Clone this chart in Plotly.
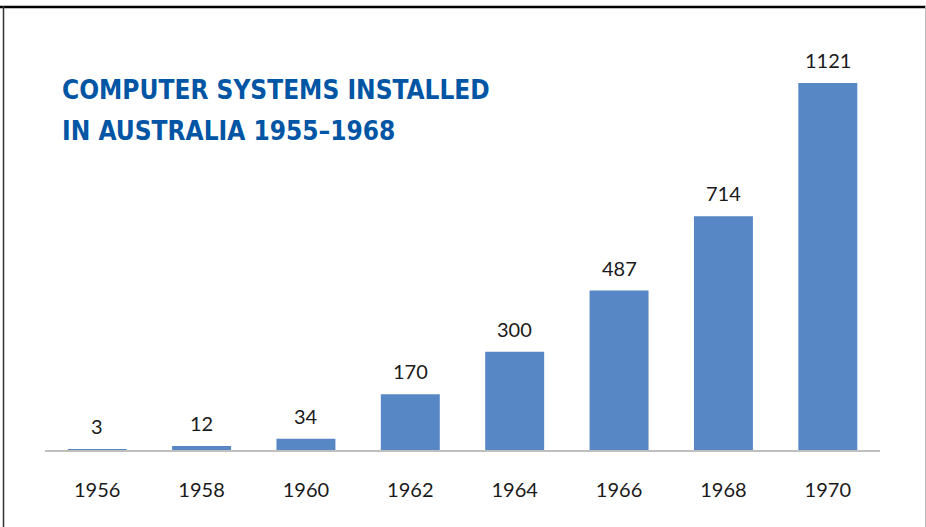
import plotly.graph_objects as go

years = ['1956', '1958', '1960', '1962', '1964', '1966', '1968', '1970']
systems = [3, 12, 34, 170, 300, 487, 714, 1121]

title_lines = ['COMPUTER SYSTEMS INSTALLED', 'IN AUSTRALIA 1955–1968']

bar_color = '#5887C6'
label_font = dict(family='Lato, Open Sans, sans-serif', size=20, color='#1a1a1a')
title_font = dict(family='Liberation Sans Narrow, DejaVu Sans Condensed, Roboto, sans-serif',
                  size=26, color='#0055A4')

fig = go.Figure()
fig.add_trace(go.Bar(x=years, y=systems, marker=dict(color=bar_color, line=dict(width=0)),
                     hoverinfo='x+y'))

# value labels above each bar (category index on the x axis)
for i, v in enumerate(systems):
    fig.add_annotation(x=i, y=v, text=str(v), showarrow=False, yanchor='bottom',
                       yshift=9, font=label_font)

# two-line title, one annotation per line so the spacing can be set
for line, ypos in zip(title_lines, [0.899, 0.797]):
    fig.add_annotation(xref='paper', yref='paper', x=0.018, y=ypos, xanchor='left',
                       yanchor='middle', showarrow=False, text='<b>' + line + '</b>',
                       font=title_font)

# frame around the slide
fig.add_shape(type='line', xref='paper', yref='paper', x0=-0.06, x1=1.06, y0=1.1075, y1=1.1075,
              line=dict(color='black', width=2.5))
fig.add_shape(type='line', xref='paper', yref='paper', x0=-0.0497, x1=-0.0497, y0=-0.2, y1=1.11,
              line=dict(color='#333333', width=1.5))
fig.add_shape(type='line', xref='paper', yref='paper', x0=1.0545, x1=1.0545, y0=-0.2, y1=1.11,
              line=dict(color='#bbbbbb', width=1))

fig.update_layout(
    width=926, height=527,
    margin=dict(l=45, r=46, t=50, b=77),
    paper_bgcolor='white', plot_bgcolor='white',
    showlegend=False, bargap=0.435,
    font=label_font,
)
fig.update_xaxes(type='category', range=[-0.5, 7.5], showline=True, linecolor='#BFBFBF',
                 linewidth=1.5, ticks='', tickfont=label_font, ticklabelstandoff=21, showgrid=False)
fig.update_yaxes(range=[0, 1222], visible=False, showgrid=False, zeroline=False)

fig.write_html("out.html", config={'displayModeBar': False},
               post_script="document.body.style.margin='0';")
